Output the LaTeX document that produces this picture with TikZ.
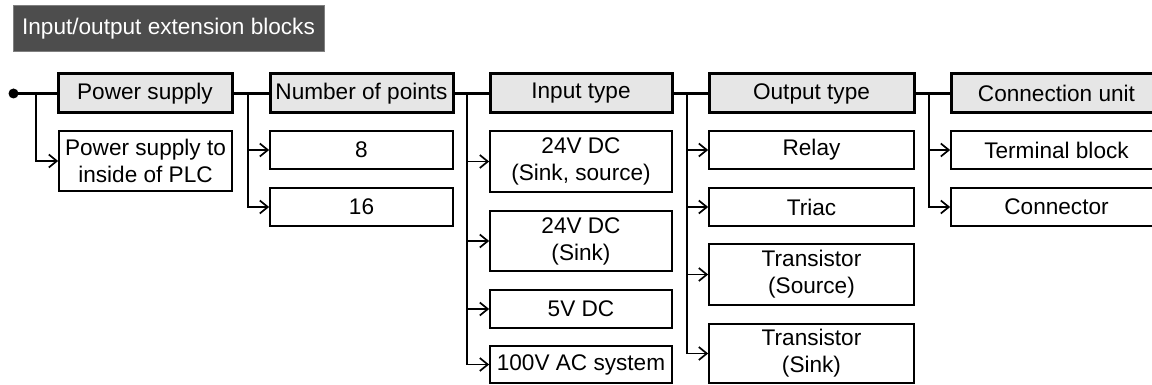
\documentclass[tikz,border=0pt]{standalone}
\usepackage{fontspec}
\setmainfont{Liberation Sans}
\usetikzlibrary{arrows.meta}
\definecolor{titlefill}{HTML}{4D4D4D}
\definecolor{titleline}{HTML}{7F7F7F}
\definecolor{hdrfill}{HTML}{E6E6E6}
\tikzset{
  txt/.style={font=\fontsize{22.6}{27}\selectfont, inner sep=0pt, align=center},
  titlebox/.style={txt, draw=titleline, line width=1pt, fill=titlefill, text=white},
  hdrbox/.style={txt, draw=black, line width=3pt, fill=hdrfill},
  itembox/.style={txt, draw=black, line width=1.7pt, fill=white},
  mainline/.style={line width=3pt},
  branch/.style={line width=1.7pt, -{Straight Barb[length=8pt,width=13pt,line width=1.7pt]}},
}
\newcommand{\bx}[7]{% style, name, x1, y1, x2, y2, text
  \node[#1, minimum width={#5-#3}, minimum height={#6-#4}] (#2) at ({(#3+#5)/2},{(#4+#6)/2}) {#7};}
\begin{document}
\begin{tikzpicture}[x=1pt,y=-1pt]
\useasboundingbox (0,0) rectangle (1152,385);
\bx{titlebox}{title}{13}{6}{324}{52}{Input/output extension blocks}
% headers
\bx{hdrbox}{ps}{58}{74}{232}{113}{Power supply}
\bx{hdrbox}{np}{270}{74}{453}{113}{Number of points}
\bx{hdrbox}{it}{490}{74}{672}{113}{Input type}
\bx{hdrbox}{ot}{709}{74}{914}{113}{Output type}
\bx{hdrbox}{cu}{951}{74}{1162}{113}{Connection unit}
% items
\bx{itembox}{psin}{59}{131}{232}{191}{Power supply to\\inside of PLC}
\bx{itembox}{n8}{270}{131}{453}{169}{8}
\bx{itembox}{n16}{270}{188}{453}{226}{16}
\bx{itembox}{i1}{490}{131}{672}{192}{24V DC\\(Sink, source)}
\bx{itembox}{i2}{490}{211}{672}{271}{24V DC\\(Sink)}
\bx{itembox}{i3}{490}{290}{672}{328}{5V DC}
\bx{itembox}{i4}{490}{346}{672}{383}{100V AC system}
\bx{itembox}{o1}{709}{131}{914}{169}{Relay}
\bx{itembox}{o2}{709}{188}{914}{226}{Triac}
\bx{itembox}{o3}{709}{244}{914}{305}{Transistor\\(Source)}
\bx{itembox}{o4}{709}{324}{914}{383}{Transistor\\(Sink)}
\bx{itembox}{c1}{951}{131}{1162}{169}{Terminal block}
\bx{itembox}{c2}{951}{188}{1162}{226}{Connector}
% junctions
\coordinate (start) at (13.5,93.5);
\coordinate (j1) at (36,93.5);
\coordinate (j2) at (248,93.5);
\coordinate (j3) at (467,93.5);
\coordinate (j4) at (687,93.5);
\coordinate (j5) at (929,93.5);
\fill (start) circle (5);
% main line
\draw[mainline] (start) -- (ps.west);
\draw[mainline] (ps.east) -- (np.west);
\draw[mainline] (np.east) -- (it.west);
\draw[mainline] (it.east) -- (ot.west);
\draw[mainline] (ot.east) -- (cu.west);
% branches
\draw[branch] (j1) |- (psin.west);
\draw[branch] (j2) |- (n8.west);
\draw[branch] (j2) |- (n16.west);
\draw[branch] (j3) |- (i1.west);
\draw[branch] (j3) |- (i2.west);
\draw[branch] (j3) |- (i3.west);
\draw[branch] (j3) |- (i4.west);
\draw[branch] (j4) |- (o1.west);
\draw[branch] (j4) |- (o2.west);
\draw[branch] (j4) |- (o3.west);
\draw[branch] (j4) |- (o4.west);
\draw[branch] (j5) |- (c1.west);
\draw[branch] (j5) |- (c2.west);
\end{tikzpicture}
\end{document}
